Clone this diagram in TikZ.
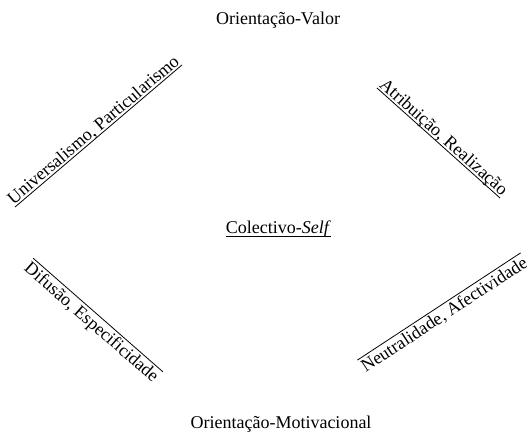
\documentclass[tikz,border=0pt]{standalone}
\usepackage{fontspec}
\setmainfont{Liberation Serif}
\begin{document}
\begin{tikzpicture}[x=1bp,y=1bp,
  lbl/.style={font=\fontsize{18bp}{21bp}\selectfont, inner sep=0pt},
  ulbl/.style={lbl, text depth=0pt, inner ysep=2.2bp, anchor=south},
  olbl/.style={lbl, text height=12.5bp, inner ysep=2.5bp, anchor=north},
  bar/.style={line width=0.8bp}]
\useasboundingbox (0,0) rectangle (527,436);

% poles
\node[lbl] (ov) at (278,416) {Orientação-Valor};
\node[lbl] (om) at (281,12) {Orientação-Motivacional};

% centre
\node[ulbl] (cs) at (278.5,200) {Colectivo-\textit{Self}};
\draw[bar] (cs.south west) -- (cs.south east);

% upper dimensions, underlined
\node[ulbl, rotate=40.4] (up) at (98.5,300) {Universalismo, Particularismo};
\draw[bar] (up.south west) -- (up.south east);
\node[ulbl, rotate=-41.8] (ar) at (438.5,293) {Atribuição, Realização};
\draw[bar] (ar.south west) -- (ar.south east);

% lower dimensions, overlined
\node[olbl, rotate=-41.2] (de) at (98,121) {Difusão, Especificidade};
\draw[bar] (de.north west) -- (de.north east);
\node[olbl, rotate=33.3] (na) at (439,129.5) {Neutralidade, Afectividade};
\draw[bar] (na.north west) -- (na.north east);
\end{tikzpicture}
\end{document}
